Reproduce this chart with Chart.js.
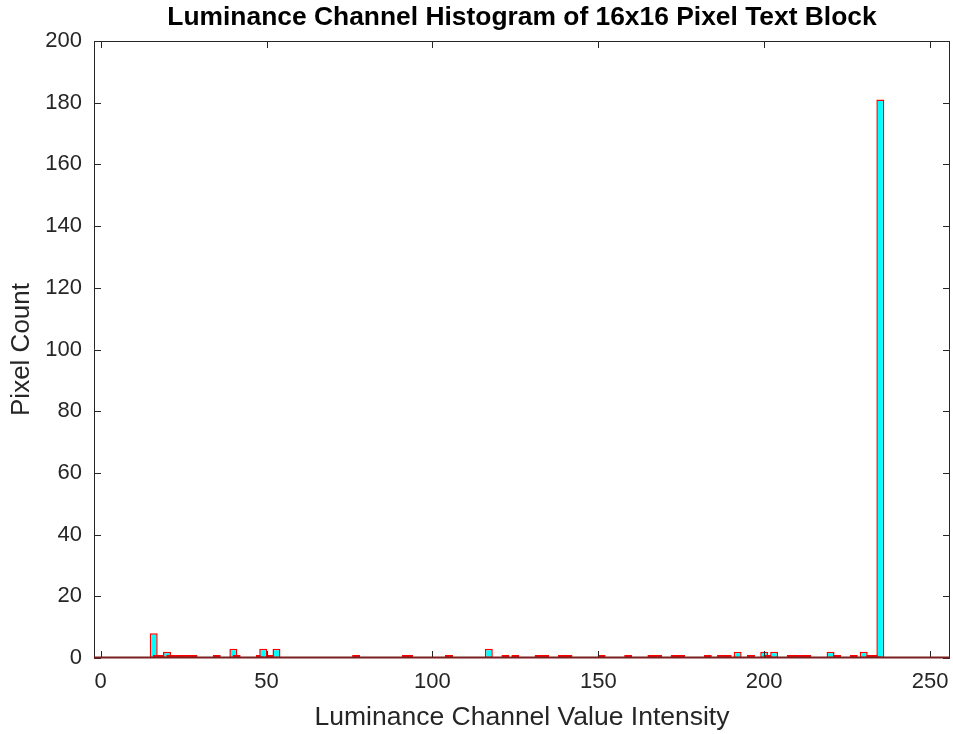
<!DOCTYPE html>
<html>
<head>
<meta charset="utf-8">
<title>Luminance Channel Histogram</title>
<script src="https://cdn.jsdelivr.net/npm/chart.js@4/dist/chart.umd.min.js"></script>
<style>
  html, body { margin: 0; padding: 0; background: #ffffff; }
  canvas { display: block; }
</style>
</head>
<body>
<canvas id="hist" width="953" height="734"></canvas>
<script>
// Luminance values (0-255) that occur in the block, and how many pixels have each value
const intensity = [16, 17, 18, 20, 21, 22, 23, 24, 26, 28,
                   35, 40, 41, 48, 49, 51, 53,
                   77, 92, 93, 105, 117, 122, 125,
                   132, 133, 134, 139, 141,
                   151, 159, 166, 168, 173, 175,
                   183, 187, 189, 192, 196,
                   200, 201, 203,
                   208, 209, 210, 211, 213,
                   220, 222, 227, 230,
                   232, 233, 234, 235];
const pixelCount = [8, 1, 1, 2, 1, 1, 1, 1, 1, 1,
                    1, 3, 1, 1, 3, 1, 3,
                    1, 1, 1, 1, 3, 1, 1,
                    1, 1, 1, 1, 1,
                    1, 1, 1, 1, 1, 1,
                    1, 1, 1, 2, 1,
                    2, 1, 2,
                    1, 1, 1, 1, 1,
                    2, 1, 1, 2,
                    1, 1, 1, 181];

const xTicks = [0, 50, 100, 150, 200, 250];
const yTicks = [0, 20, 40, 60, 80, 100, 120, 140, 160, 180, 200];

const chartTitle = 'Luminance Channel Histogram of 16x16 Pixel Text Block';
const xTitle = 'Luminance Channel Value Intensity';
const yTitle = 'Pixel Count';

const FONT = '"Liberation Sans", Arial, Helvetica, sans-serif';
const INK = '#262626';

// Axes box with inward tick marks on all four sides, the baseline and the title
const axisFrame = {
  id: 'axisFrame',
  afterDatasetsDraw(chart) {
    const { ctx, chartArea: a, scales: { x, y } } = chart;
    const tick = 7;
    ctx.save();
    ctx.strokeStyle = INK;
    ctx.lineWidth = 1;
    ctx.beginPath();
    ctx.moveTo(a.left + 0.5, a.bottom);
    ctx.lineTo(a.left + 0.5, a.top + 0.5);
    ctx.lineTo(a.right - 0.5, a.top + 0.5);
    ctx.lineTo(a.right - 0.5, a.bottom);
    for (const v of yTicks) {
      const py = Math.round(y.getPixelForValue(v)) + 0.5;
      ctx.moveTo(a.left, py); ctx.lineTo(a.left + tick, py);
      ctx.moveTo(a.right, py); ctx.lineTo(a.right - tick, py);
    }
    for (const v of xTicks) {
      const px = Math.round(x.getPixelForValue(v)) + 0.5;
      ctx.moveTo(px, a.bottom); ctx.lineTo(px, a.bottom - tick);
      ctx.moveTo(px, a.top); ctx.lineTo(px, a.top + tick);
    }
    ctx.stroke();

    // zero line where the empty bins sit
    ctx.strokeStyle = '#7a1e1e';
    ctx.lineWidth = 2;
    ctx.beginPath();
    ctx.moveTo(a.left, a.bottom - 0.5);
    ctx.lineTo(a.right, a.bottom - 0.5);
    ctx.stroke();

    ctx.fillStyle = '#000000';
    ctx.font = 'bold 26.4px ' + FONT;
    ctx.textAlign = 'center';
    ctx.textBaseline = 'middle';
    ctx.fillText(chartTitle, (a.left + a.right) / 2, 18);
    ctx.restore();
  }
};

new Chart(document.getElementById('hist'), {
  type: 'bar',
  data: {
    datasets: [{
      data: intensity.map((v, i) => ({ x: v, y: pixelCount[i] })),
      backgroundColor: '#00ffff',
      borderColor: '#ff0000',
      borderWidth: 1.5,
      borderSkipped: false,
      barPercentage: 2.4,
      categoryPercentage: 1
    }]
  },
  options: {
    responsive: false,
    animation: false,
    devicePixelRatio: 1,
    layout: { padding: { top: 41, right: 3, bottom: 0, left: 0 } },
    plugins: {
      legend: { display: false },
      tooltip: { enabled: false },
      title: { display: false }
    },
    scales: {
      x: {
        type: 'linear',
        offset: false,
        min: -2,
        max: 256,
        afterBuildTicks: s => { s.ticks = xTicks.map(v => ({ value: v })); },
        afterFit: s => { s.height = 76; s.paddingLeft = 0; s.paddingRight = 0; },
        grid: { display: false, drawTicks: false, offset: false },
        border: { display: false },
        ticks: { color: INK, font: { family: FONT, size: 22 }, padding: 11, maxRotation: 0 },
        title: { display: true, text: xTitle, color: INK, font: { family: FONT, size: 26.5 }, padding: { top: 0, bottom: 0 } }
      },
      y: {
        min: 0,
        max: 200,
        afterBuildTicks: s => { s.ticks = yTicks.map(v => ({ value: v })); },
        afterFit: s => { s.width = 94; s.paddingTop = 0; s.paddingBottom = 0; },
        grid: { display: false, drawTicks: false },
        border: { display: false },
        ticks: { color: INK, font: { family: FONT, size: 22 }, padding: 12 },
        title: { display: true, text: yTitle, color: INK, font: { family: FONT, size: 26 }, padding: { top: 6, bottom: 0 } }
      }
    }
  },
  plugins: [axisFrame]
});
</script>
</body>
</html>
